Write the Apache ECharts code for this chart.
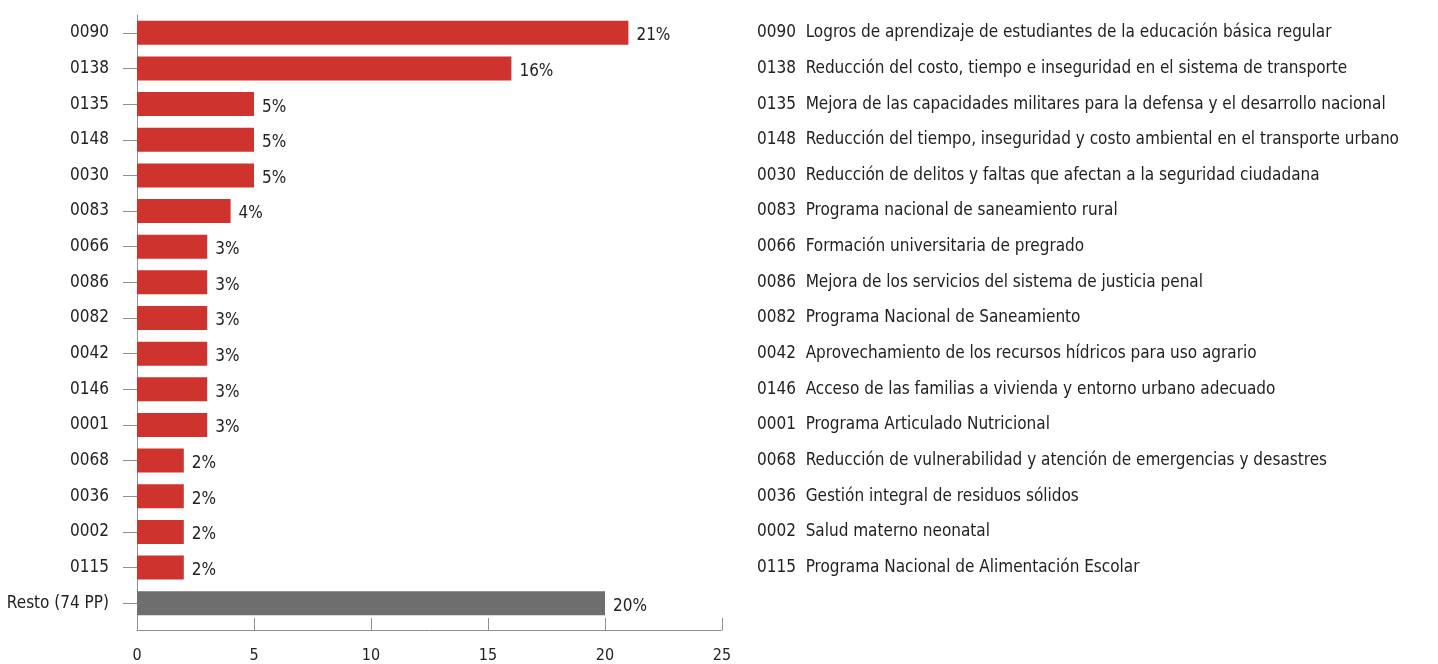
<!DOCTYPE html>
<html>
<head>
<meta charset="utf-8">
<script src="https://cdn.jsdelivr.net/npm/echarts@6/dist/echarts.min.js"></script>
<style>
  html, body { margin: 0; padding: 0; background: #fff; }
  #chart { width: 1438px; height: 664px; }
</style>
</head>
<body>
<div id="chart"></div>
<script>
'use strict';

// program codes (top to bottom)
const codes = ['0090', '0138', '0135', '0148', '0030', '0083', '0066', '0086',
    '0082', '0042', '0146', '0001', '0068', '0036', '0002', '0115', 'Resto (74 PP)'];

// share of budget, %
const shares = [21, 16, 5, 5, 5, 4, 3, 3, 3, 3, 3, 3, 2, 2, 2, 2, 20];

// program names, shown in the list on the right
const names = [
    'Logros de aprendizaje de estudiantes de la educación básica regular',
    'Reducción del costo, tiempo e inseguridad en el sistema de transporte',
    'Mejora de las capacidades militares para la defensa y el desarrollo nacional',
    'Reducción del tiempo, inseguridad y costo ambiental en el transporte urbano',
    'Reducción de delitos y faltas que afectan a la seguridad ciudadana',
    'Programa nacional de saneamiento rural',
    'Formación universitaria de pregrado',
    'Mejora de los servicios del sistema de justicia penal',
    'Programa Nacional de Saneamiento',
    'Aprovechamiento de los recursos hídricos para uso agrario',
    'Acceso de las familias a vivienda y entorno urbano adecuado',
    'Programa Articulado Nutricional',
    'Reducción de vulnerabilidad y atención de emergencias y desastres',
    'Gestión integral de residuos sólidos',
    'Salud materno neonatal',
    'Programa Nacional de Alimentación Escolar',
    ''
];

const xTicks = [0, 5, 10, 15, 20, 25];

const FONT = '"Liberation Sans Narrow", "DejaVu Sans Condensed", "Arial Narrow", sans-serif';
const RED  = '#cf332d';
const GREY = '#6e6e6e';
const TEXT = '#222';
const AXIS = '#909090';

const chart = echarts.init(document.getElementById('chart'), null, {renderer: 'canvas'});

chart.setOption({
    animation: false,
    backgroundColor: '#fff',
    textStyle: {fontFamily: FONT},
    grid: {left: 137, right: 716, top: 15, bottom: 41, containLabel: false},
    xAxis: {
        type: 'value',
        min: xTicks[0],
        max: xTicks[xTicks.length - 1],
        interval: 5,
        offset: 9,
        splitLine: {show: false},
        axisLine: {show: true, lineStyle: {color: AXIS, width: 1}},
        axisTick: {show: true, inside: true, length: 12, lineStyle: {color: AXIS}},
        axisLabel: {color: TEXT, fontSize: 16, margin: 18, fontFamily: FONT}
    },
    yAxis: [{
        type: 'category',
        data: codes,
        inverse: true,
        axisLine: {show: true, lineStyle: {color: AXIS, width: 1}},
        axisTick: {show: true, alignWithLabel: true, length: 14, lineStyle: {color: AXIS}},
        axisLabel: {color: TEXT, fontSize: 17, margin: 28, fontFamily: FONT}
    }, {
        type: 'category',
        data: codes,
        inverse: true,
        position: 'right',
        axisLine: {show: false},
        axisTick: {show: false},
        axisLabel: {
            color: TEXT,
            fontSize: 17,
            margin: 35,
            fontFamily: FONT,
            align: 'left',
            formatter: (val, i) => names[i] ? val + '  ' + names[i] : ''
        }
    }],
    series: [{
        type: 'bar',
        yAxisIndex: 0,
        barWidth: 24,
        data: shares.map((v, i) => ({
            value: v,
            itemStyle: {color: i === shares.length - 1 ? GREY : RED}
        })),
        label: {
            show: true,
            position: 'right',
            distance: 8,
            offset: [0, 3],
            color: TEXT,
            fontSize: 17,
            fontFamily: FONT,
            formatter: p => p.value + '%'
        }
    }]
});
</script>
</body>
</html>
